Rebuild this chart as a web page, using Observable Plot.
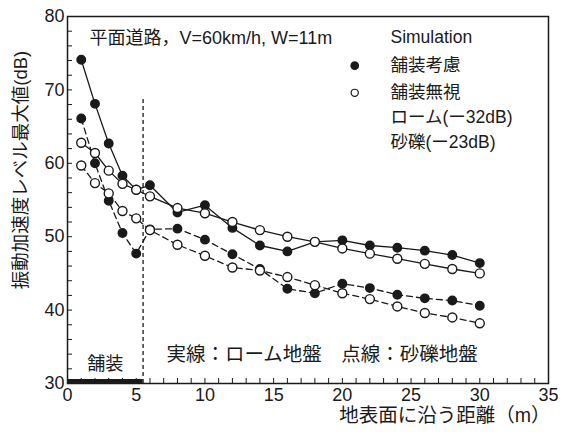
<!DOCTYPE html>
<html><head><meta charset="utf-8">
<script src="https://cdn.jsdelivr.net/npm/d3@7"></script>
<script src="https://cdn.jsdelivr.net/npm/@observablehq/plot@0.6"></script>
<style>body{margin:0;background:#fff}</style>
</head><body><div id="chart"></div>
<script>
// distance along ground surface (m)
const distance = [1,2,3,4,5,6,8,10,12,14,16,18,20,22,24,26,28,30];
// solid lines: loam ground ; dashed lines: gravel ground
const loamPaved     = [74.1,68.1,62.7,58.3,56.4,57.0,53.3,54.3,51.2,48.8,48.0,49.3,49.5,48.8,48.5,48.1,47.5,46.4];
const loamIgnored   = [62.8,61.4,59.0,57.2,56.4,55.5,53.9,53.2,52.0,50.9,50.0,49.3,48.4,47.7,47.0,46.3,45.6,45.0];
const gravelPaved   = [66.1,60.0,54.9,50.5,47.7,51.0,51.1,49.6,47.6,45.6,42.9,42.3,43.6,43.0,42.1,41.6,41.3,40.6];
const gravelIgnored = [59.7,57.3,55.9,53.5,52.5,50.9,48.9,47.4,45.8,45.4,44.5,43.4,42.3,41.5,40.5,39.6,39.0,38.2];

const xTicks = [0,5,10,15,20,25,30,35];
const yTicks = [30,40,50,60,70,80];
const xMinor = [0,1,2,3,4,5,6,7,8,9,10,11,12,13,14,15,16,17,18,19,20,21,22,23,24,25,26,27,28,29,30,31,32,33,34,35];
const yMinor = [30,32,34,36,38,40,42,44,46,48,50,52,54,56,58,60,62,64,66,68,70,72,74,76,78,80];
const pavementEnd = 5.5;

const xLabel = "地表面に沿う距離（m）";
const yLabel = "振動加速度レベル最大値(dB)";
const conditionText = "平面道路，V=60km/h, W=11m";
const legendTitle = "Simulation";
const legendFilled = "舗装考慮";
const legendOpen = "舗装無視";
const legendLoam = "ローム(ー32dB)";
const legendGravel = "砂礫(ー23dB)";
const lineNote = "実線：ローム地盤　点線：砂礫地盤";
const pavementLabel = "舗装";

const mk = (vals) => distance.map((d, i) => ({x: d, y: vals[i]}));
const W = 567, H = 435, mL = 67, mR = 19, mT = 16, mB = 52;
const font = "'Liberation Sans', Arial, 'Noto Sans CJK JP', sans-serif";
const ink = "#1a1a1a";

const chart = Plot.plot({
  width: W, height: H,
  marginLeft: mL, marginRight: mR, marginTop: mT, marginBottom: mB,
  style: {fontFamily: font, background: "#fff", color: ink},
  x: {domain: [0, 35]},
  y: {domain: [30, 80]},
  marks: [
    Plot.frame({stroke: ink, strokeWidth: 1.5}),
    Plot.tickX(xMinor, {x: d => d, insetTop: H - mT - mB - 5, stroke: ink}),
    Plot.tickY(yMinor, {y: d => d, insetRight: W - mL - mR - 5, stroke: ink}),
    Plot.axisX({ticks: xTicks, tickSize: 0, tickPadding: 5, fontSize: 18, label: null, fill: ink}),
    Plot.axisY({ticks: yTicks, tickSize: 0, tickPadding: 3, fontSize: 18, label: null, fill: ink}),
    Plot.text([xLabel], {frameAnchor: "bottom-right", textAnchor: "end", dy: 38, dx: 2, fontSize: 19.5, fill: ink}),
    Plot.text([yLabel], {frameAnchor: "left", textAnchor: "middle", rotate: -90, dx: -46, dy: -30, fontSize: 18.5, fill: ink}),
    // pavement
    Plot.ruleY([30], {x1: 0, x2: pavementEnd, strokeWidth: 5, dy: -2, stroke: ink}),
    Plot.ruleX([pavementEnd], {y1: 30, y2: 68.8, strokeDasharray: "4,3", strokeWidth: 1.3, stroke: ink}),
    Plot.text([pavementLabel], {x: 2.75, y: 32.6, fontSize: 18, fill: ink}),
    // series lines
    Plot.line(mk(gravelPaved), {x: "x", y: "y", stroke: ink, strokeWidth: 1.3, strokeDasharray: "6,4"}),
    Plot.line(mk(gravelIgnored), {x: "x", y: "y", stroke: ink, strokeWidth: 1.3, strokeDasharray: "6,4"}),
    Plot.line(mk(loamPaved), {x: "x", y: "y", stroke: ink, strokeWidth: 1.3}),
    Plot.line(mk(loamIgnored), {x: "x", y: "y", stroke: ink, strokeWidth: 1.3}),
    Plot.dot(mk(gravelPaved), {x: "x", y: "y", r: 4.2, fill: ink, stroke: ink}),
    Plot.dot(mk(loamPaved), {x: "x", y: "y", r: 4.2, fill: ink, stroke: ink}),
    Plot.dot(mk(gravelIgnored), {x: "x", y: "y", r: 4.5, fill: "#fff", stroke: ink, strokeWidth: 1.4}),
    Plot.dot(mk(loamIgnored), {x: "x", y: "y", r: 4.5, fill: "#fff", stroke: ink, strokeWidth: 1.4}),
    // annotations
    Plot.text([conditionText], {x: 1.6, y: 77.1, textAnchor: "start", fontSize: 18, fill: ink}),
    Plot.text([legendTitle], {x: 23.5, y: 77.1, textAnchor: "start", fontSize: 17.5, fill: ink}),
    Plot.dot([{x: 20.9, y: 73.3}], {x: "x", y: "y", r: 3.6, fill: ink, stroke: ink}),
    Plot.dot([{x: 20.9, y: 69.6}], {x: "x", y: "y", r: 3.6, fill: "#fff", stroke: ink, strokeWidth: 1.2}),
    Plot.text([legendFilled], {x: 23.5, y: 73.3, textAnchor: "start", fontSize: 17.5, fill: ink}),
    Plot.text([legendOpen], {x: 23.5, y: 69.6, textAnchor: "start", fontSize: 17.5, fill: ink}),
    Plot.text([legendLoam], {x: 23.5, y: 66.2, textAnchor: "start", fontSize: 17.5, fill: ink}),
    Plot.text([legendGravel], {x: 23.5, y: 62.8, textAnchor: "start", fontSize: 17.5, fill: ink}),
    Plot.text([lineNote], {x: 7.2, y: 33.9, textAnchor: "start", fontSize: 19.5, fill: ink})
  ]
});
document.getElementById("chart").appendChild(chart);
</script>
</body></html>
